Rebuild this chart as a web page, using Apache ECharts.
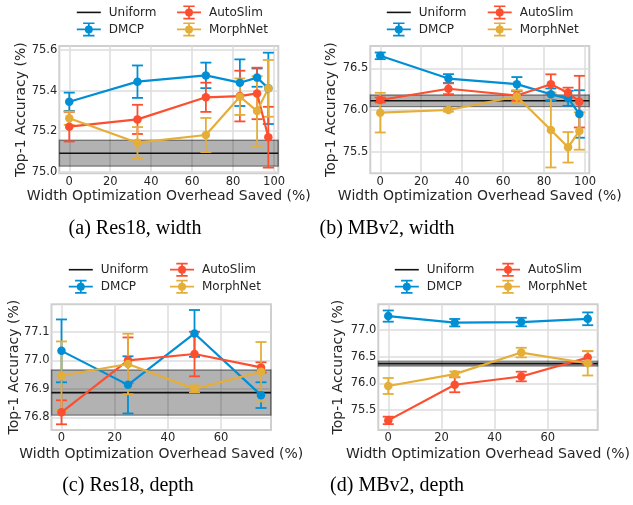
<!DOCTYPE html>
<html><head><meta charset="utf-8">
<script src="https://cdn.jsdelivr.net/npm/echarts@6/dist/echarts.min.js"></script>
<style>html,body{margin:0;padding:0;background:#fff}#c{width:633px;height:505px}</style>
</head><body><div id="c"></div>
<script>
// ---------- data ----------
const X_WIDTH = [0, 33.3, 66.7, 83.3, 91.7, 97.2];
const X_DEPTH = [0, 25, 50, 75];
const X_TICKS_WIDTH = [0, 20, 40, 60, 80, 100];
const X_TICKS_DEPTH = [0, 20, 40, 60];
const Y_TICKS_A = [75.0, 75.2, 75.4, 75.6];
const Y_TICKS_B = [75.5, 76.0, 76.5];
const Y_TICKS_C = [76.8, 76.9, 77.0, 77.1];
const Y_TICKS_D = [75.5, 76.0, 76.5, 77.0];

const A_DMCP = [75.345, 75.444, 75.475, 75.439, 75.464, 75.411];
const A_DMCP_ERR = [0.045, 0.08, 0.063, 0.115, 0.045, 0.176];
const A_AUTOSLIM = [75.222, 75.258, 75.367, 75.373, 75.386, 75.17];
const A_AUTOSLIM_ERR = [0.073, 0.072, 0.072, 0.125, 0.127, 0.15];
const A_MORPHNET = [75.264, 75.143, 75.181, 75.37, 75.299, 75.411];
const A_MORPHNET_ERR = [0.033, 0.077, 0.084, 0.09, 0.172, 0.14];

const B_DMCP = [76.65, 76.377, 76.31, 76.188, 76.14, 75.952];
const B_DMCP_ERR = [0.04, 0.053, 0.085, 0.07, 0.09, 0.285];
const B_AUTOSLIM = [76.12, 76.255, 76.174, 76.308, 76.208, 76.1];
const B_AUTOSLIM_ERR = [0.03, 0.065, 0.06, 0.12, 0.06, 0.31];
const B_MORPHNET = [75.968, 76.0, 76.162, 75.76, 75.552, 75.748];
const B_MORPHNET_ERR = [0.238, 0.02, 0.07, 0.45, 0.183, 0.225];

const C_DMCP = [77.033, 76.914, 77.094, 76.878];
const C_DMCP_ERR = [0.11, 0.1, 0.082, 0.045];
const C_AUTOSLIM = [76.818, 77.0, 77.022, 76.975];
const C_AUTOSLIM_ERR = [0.042, 0.08, 0.078, 0.018];
const C_MORPHNET = [76.946, 76.987, 76.9, 76.96];
const C_MORPHNET_ERR = [0.12, 0.106, 0.012, 0.104];

const D_DMCP = [77.261, 77.137, 77.149, 77.21];
const D_DMCP_ERR = [0.105, 0.07, 0.08, 0.12];
const D_AUTOSLIM = [75.305, 75.973, 76.128, 76.483];
const D_AUTOSLIM_ERR = [0.07, 0.14, 0.09, 0.12];
const D_MORPHNET = [75.95, 76.172, 76.577, 76.377];
const D_MORPHNET_ERR = [0.15, 0.05, 0.09, 0.23];

const UNIFORM = [75.091, 76.11, 76.887, 76.37];
const UNIFORM_ERR = [0.064, 0.07, 0.079, 0.045];

const CAPTIONS = ['(a) Res18, width', '(b) MBv2, width', '(c) Res18, depth', '(d) MBv2, depth'];
const X_LABEL = 'Width Optimization Overhead Saved (%)';
const Y_LABEL = 'Top-1 Accuracy (%)';
const METHOD_NAMES = ['DMCP', 'AutoSlim', 'MorphNet'];
const UNIFORM_NAME = 'Uniform';

// ---------- layout / style ----------
const FONT = 'DejaVu Sans';
const TXT = '#262626';
const COLORS = { DMCP: '#008fd5', AutoSlim: '#fc4f30', MorphNet: '#e5ae38' };
const ICON = 'path://M0 6.1H24V7.9H0Z M11.1 0.5H12.9V13.5H11.1Z M6.3 0H17.7V1.7H6.3Z M6.3 12.3H17.7V14H6.3Z M16 7A4 4 0 1 1 8 7A4 4 0 1 1 16 7Z';

const PANELS = [
  { grid: { left: 59.3, top: 46, width: 219, height: 127.3 }, xr: [-4.86, 102.06], yr: [74.992, 75.62],
    xs: X_WIDTH, xt: X_TICKS_WIDTH, yt: Y_TICKS_A, ser: [A_DMCP, A_AUTOSLIM, A_MORPHNET], err: [A_DMCP_ERR, A_AUTOSLIM_ERR, A_MORPHNET_ERR],
    legL: 76, legR: 177, legT: 5.4, yGap: 31, xGap: 16, cap: [135, 229] },
  { grid: { left: 370.3, top: 46, width: 219, height: 127.3 }, xr: [-4.86, 102.06], yr: [75.24, 76.768],
    xs: X_WIDTH, xt: X_TICKS_WIDTH, yt: Y_TICKS_B, ser: [B_DMCP, B_AUTOSLIM, B_MORPHNET], err: [B_DMCP_ERR, B_AUTOSLIM_ERR, B_MORPHNET_ERR],
    legL: 386, legR: 487.7, legT: 5.4, yGap: 32, xGap: 16, cap: [387, 229] },
  { grid: { left: 51.5, top: 304.3, width: 219.5, height: 125.7 }, xr: [-3.75, 78.75], yr: [76.756, 77.196],
    xs: X_DEPTH, xt: X_TICKS_DEPTH, yt: Y_TICKS_C, ser: [C_DMCP, C_AUTOSLIM, C_MORPHNET], err: [C_DMCP_ERR, C_AUTOSLIM_ERR, C_MORPHNET_ERR],
    legL: 68, legR: 170, legT: 262.7, yGap: 30, xGap: 17.5, cap: [128, 486] },
  { grid: { left: 378.3, top: 304.3, width: 219.4, height: 125.7 }, xr: [-3.75, 78.75], yr: [75.125, 77.482],
    xs: X_DEPTH, xt: X_TICKS_DEPTH, yt: Y_TICKS_D, ser: [D_DMCP, D_AUTOSLIM, D_MORPHNET], err: [D_DMCP_ERR, D_AUTOSLIM_ERR, D_MORPHNET_ERR],
    legL: 394, legR: 496, legT: 262.7, yGap: 32.5, xGap: 17.5, cap: [397, 486] }
];

const grids = [], xAxes = [], yAxes = [], series = [], legends = [], graphics = [];

function errRender(color) {
  return function (params, api) {
    const x = api.value(0), y = api.value(1), e = api.value(2);
    const t = api.coord([x, y + e]), b = api.coord([x, y - e]);
    const w = 5.5, st = { stroke: color, lineWidth: 1.8 };
    return { type: 'group', children: [
      { type: 'line', shape: { x1: t[0], y1: t[1], x2: b[0], y2: b[1] }, style: st },
      { type: 'line', shape: { x1: t[0] - w, y1: t[1], x2: t[0] + w, y2: t[1] }, style: st },
      { type: 'line', shape: { x1: b[0] - w, y1: b[1], x2: b[0] + w, y2: b[1] }, style: st }
    ] };
  };
}

function bandRender(params, api) {
  const u = api.value(0), e = api.value(1);
  const cs = params.coordSys;
  const hi = api.coord([0, u + e])[1], lo = api.coord([0, u - e])[1], mid = api.coord([0, u])[1];
  return { type: 'group', children: [
    { type: 'rect', shape: { x: cs.x, y: hi, width: cs.width, height: lo - hi },
      style: { fill: 'rgba(0,0,0,0.3)', stroke: 'rgba(0,0,0,0.42)', lineWidth: 1.3 } },
    { type: 'line', shape: { x1: cs.x, y1: mid, x2: cs.x + cs.width, y2: mid },
      style: { stroke: '#111', lineWidth: 1.6 } }
  ] };
}

PANELS.forEach((p, i) => {
  grids.push(Object.assign({ show: true, borderColor: '#cfcfcf', borderWidth: 2, backgroundColor: 'transparent' }, p.grid));
  xAxes.push({
    type: 'value', gridIndex: i, min: p.xr[0], max: p.xr[1],
    name: X_LABEL, nameLocation: 'middle', nameGap: p.xGap, nameMoveOverlap: false,
    nameTextStyle: { fontFamily: FONT, fontSize: 14, color: TXT },
    axisLine: { show: false }, axisTick: { show: false, customValues: p.xt },
    axisLabel: { customValues: p.xt, fontFamily: FONT, fontSize: 11.5, color: TXT, margin: 2.5, formatter: v => String(v) },
    splitLine: { show: true, lineStyle: { color: '#dcdcdc', width: 1.5 } }
  });
  yAxes.push({
    type: 'value', gridIndex: i, min: p.yr[0], max: p.yr[1],
    name: Y_LABEL, nameLocation: 'middle', nameGap: p.yGap, nameMoveOverlap: false,
    nameTextStyle: { fontFamily: FONT, fontSize: 14, color: TXT },
    axisLine: { show: false }, axisTick: { show: false, customValues: p.yt },
    axisLabel: { customValues: p.yt, fontFamily: FONT, fontSize: 11.5, color: TXT, margin: 2, formatter: v => v.toFixed(1) },
    splitLine: { show: true, lineStyle: { color: '#dcdcdc', width: 1.5 } }
  });
  // uniform band + line
  series.push({ type: 'custom', name: 'Uniform band ' + i, xAxisIndex: i, yAxisIndex: i, silent: true,
    renderItem: bandRender, data: [[UNIFORM[i], UNIFORM_ERR[i]]], z: 2 });
  series.push({ type: 'line', name: UNIFORM_NAME, xAxisIndex: i, yAxisIndex: i, data: [], symbol: 'none',
    lineStyle: { color: '#111', width: 1.6 }, itemStyle: { color: 'rgba(0,0,0,0)', opacity: 0 } });
  METHOD_NAMES.forEach((m, k) => {
    const c = COLORS[m];
    series.push({ type: 'custom', name: m + ' err ' + i, xAxisIndex: i, yAxisIndex: i, silent: true,
      dimensions: ['x', 'y', 'e'], encode: { x: 0, y: 1 },
      renderItem: errRender(c), data: p.xs.map((x, j) => [x, p.ser[k][j], p.err[k][j]]) });
    series.push({ type: 'line', name: m, xAxisIndex: i, yAxisIndex: i,
      data: p.xs.map((x, j) => [x, p.ser[k][j]]),
      symbol: 'circle', symbolSize: 8.5, showSymbol: true,
      lineStyle: { color: c, width: 2.2 }, itemStyle: { color: c, borderWidth: 0 }, animation: false });
  });
  const legCommon = { orient: 'vertical', top: p.legT, itemWidth: 24, itemHeight: 14, itemGap: 3, padding: 0,
    selectedMode: false, textStyle: { fontFamily: FONT, fontSize: 12, color: TXT, padding: [0, 0, 0, 3], lineHeight: 14 } };
  legends.push(Object.assign({}, legCommon, { left: p.legL, data: [
    { name: UNIFORM_NAME, itemStyle: { color: 'rgba(0,0,0,0)', opacity: 0 }, lineStyle: { color: '#111', width: 1.6, opacity: 1 } },
    { name: 'DMCP', icon: ICON, itemStyle: { color: COLORS.DMCP } }] }));
  legends.push(Object.assign({}, legCommon, { left: p.legR, data: [
    { name: 'AutoSlim', icon: ICON, itemStyle: { color: COLORS.AutoSlim } },
    { name: 'MorphNet', icon: ICON, itemStyle: { color: COLORS.MorphNet } }] }));
  graphics.push({ type: 'text', x: p.cap[0], y: p.cap[1],
    style: { text: CAPTIONS[i], font: '20px "Liberation Serif"', fill: '#000', align: 'center', verticalAlign: 'middle' } });
});

const chart = echarts.init(document.getElementById('c'), null, { renderer: 'canvas' });
chart.setOption({
  animation: false,
  backgroundColor: '#fff',
  grid: grids, xAxis: xAxes, yAxis: yAxes, series: series, legend: legends, graphic: graphics
});
</script></body></html>
